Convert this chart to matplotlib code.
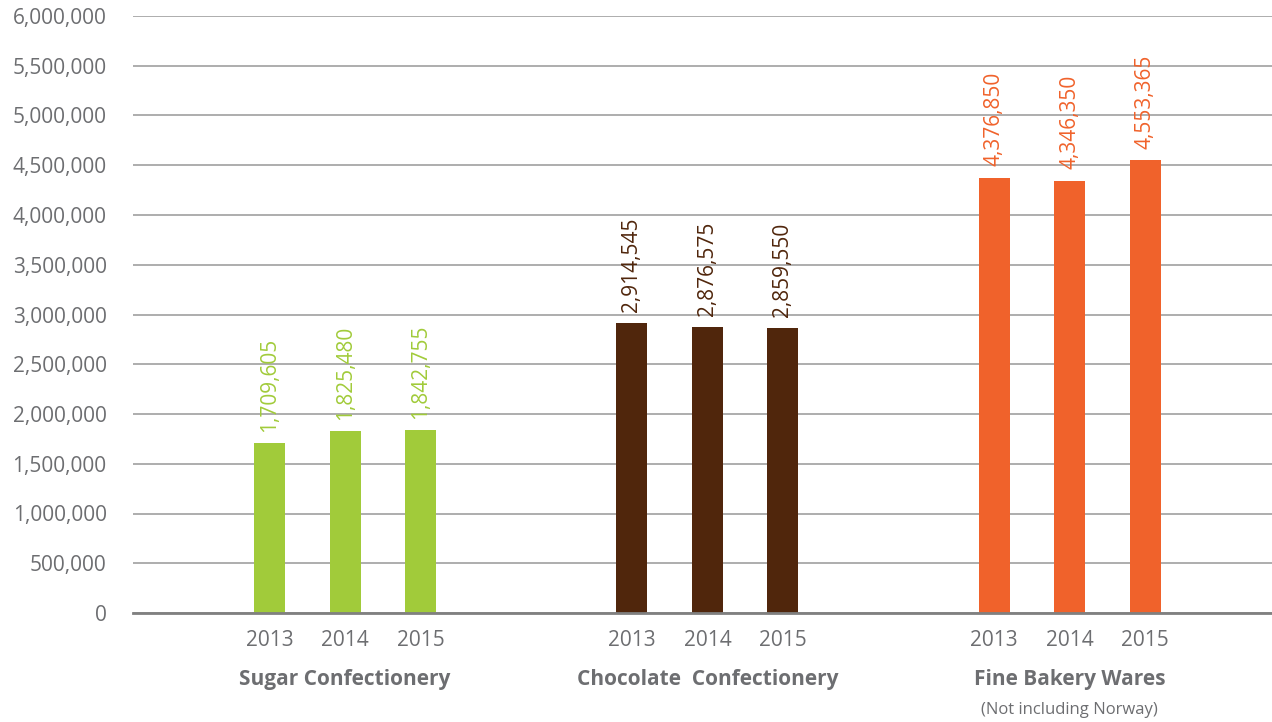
import numpy as np
import matplotlib.pyplot as plt
from matplotlib.ticker import FuncFormatter

# data
groups = ["Sugar Confectionery", "Chocolate  Confectionery", "Fine Bakery Wares"]
years = ["2013", "2014", "2015"]
sugar = [1709605, 1825480, 1842755]
chocolate = [2914545, 2876575, 2859550]
bakery = [4376850, 4346350, 4553365]
notes = ["", "", "(Not including Norway)"]

colors = ["#a1cb3a", "#50260c", "#f0622b"]
grey = "#6d6e71"

plt.rcParams['font.family'] = ['Open Sans', 'DejaVu Sans']

fig = plt.figure(figsize=[12.72, 7.22], dpi=100)
ax = fig.add_axes([133 / 1272, 109 / 722, 1 - 133 / 1272, 597 / 722])

gap = 4.8
width = 0.41
xs, labels = [], []
for g, vals in enumerate([sugar, chocolate, bakery]):
    pos = g * gap + np.arange(3) - 1
    ax.bar(pos, vals, width=width, color=colors[g], zorder=3)
    for x, v in zip(pos, vals):
        ax.annotate(f"{v:,}", (x, v), xytext=(0, 8), textcoords="offset points",
                    rotation=90, ha="center", va="bottom", fontsize=15,
                    color=colors[g])
    xs.extend(pos)
    labels.extend(years)
    ax.annotate(groups[g], (g * gap, 0), xycoords=("data", "axes fraction"),
                xytext=(0, -48), textcoords="offset points", ha="center",
                va="center", fontsize=15, fontweight="bold", color=grey)
    if notes[g]:
        ax.annotate(notes[g], (g * gap, 0), xycoords=("data", "axes fraction"),
                    xytext=(0, -70), textcoords="offset points", ha="center",
                    va="center", fontsize=12, color=grey)

ax.set_xlim(-2.81, 12.28)
ax.set_ylim(0, 6000000)
ax.set_yticks(np.arange(0, 6000001, 500000))
ax.yaxis.set_major_formatter(FuncFormatter(lambda v, p: f"{int(v):,}"))
ax.set_xticks(xs)
ax.set_xticklabels(labels)
ax.tick_params(axis="both", length=0, labelsize=15, labelcolor=grey)
ax.tick_params(axis="y", pad=19)
ax.tick_params(axis="x", pad=12)

ax.grid(axis="y", color="#a0a0a0", linewidth=1.2, zorder=0)
for s in ["top", "right", "left"]:
    ax.spines[s].set_visible(False)
ax.spines["bottom"].set_color("#808080")
ax.spines["bottom"].set_linewidth(2)
ax.spines["bottom"].set_zorder(4)

plt.savefig("out.png", dpi=100)
